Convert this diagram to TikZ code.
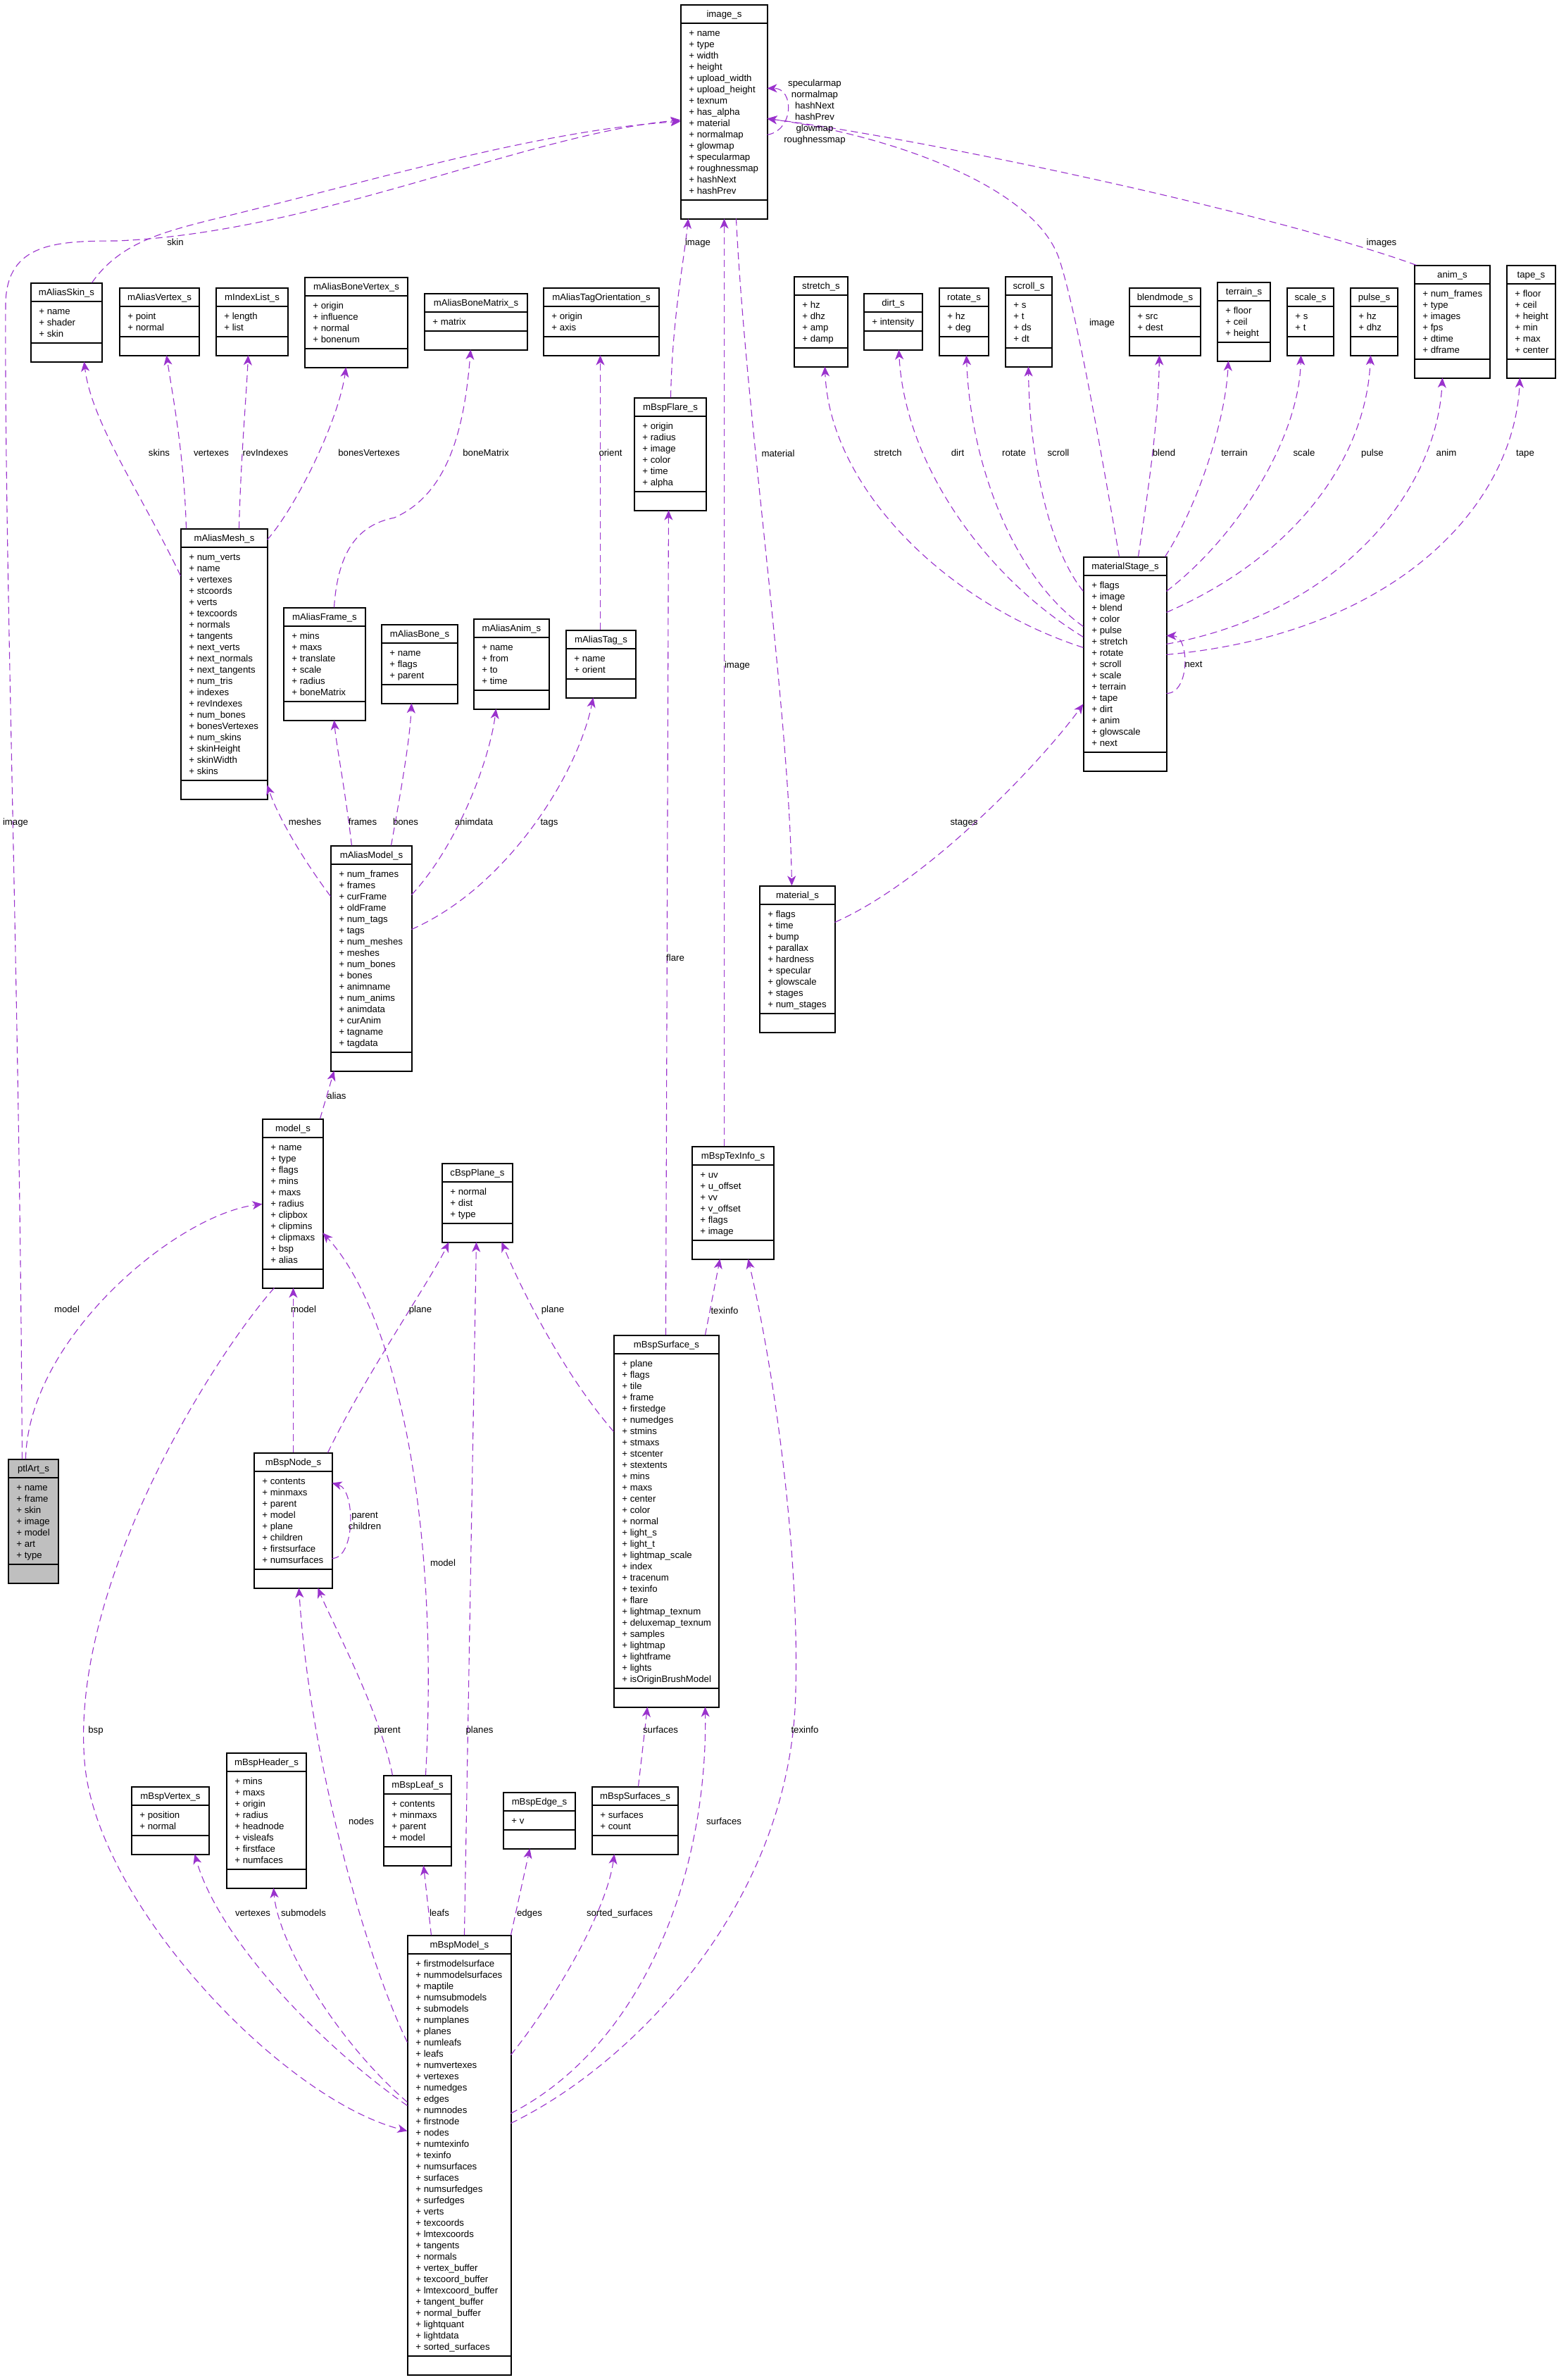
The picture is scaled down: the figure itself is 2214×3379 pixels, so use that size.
\documentclass[tikz,border=0pt]{standalone}
\usepackage{fontspec}
\setmainfont{Liberation Sans}
\usetikzlibrary{arrows.meta,fit}
\definecolor{edgec}{HTML}{9A32CD}
\definecolor{grayfill}{HTML}{BFBFBF}
\tikzset{
  boxline/.style={draw=black, line width=0.55pt},
  rel/.style={draw=edgec, line width=0.55pt, dash pattern=on 5pt off 3pt, -{Stealth[length=7pt,width=6pt,inset=2pt]}},
  lbl/.style={font=\fontsize{6.6}{8}\selectfont, inner sep=0pt, anchor=base, align=center},
  lblc/.style={font=\fontsize{6.6}{8}\selectfont, inner sep=0pt, anchor=center, align=center},
  attr/.style={font=\fontsize{6.6}{8}\selectfont, inner sep=0pt, anchor=base west},
  ttl/.style={font=\fontsize{6.6}{8}\selectfont, inner sep=0pt, anchor=base},
}
\newcommand{\umlbox}[8][white]{%
  \node[boxline, fill=#1, inner sep=0pt, fit={(#3,#4) ({#3+#5},{#4+64+16*#6})}] (#2) {};
  \draw[boxline] (#3,{#4+26}) -- ++(#5,0);
  \draw[boxline] (#3,{#4+37+16*#6}) -- ++(#5,0);
  \node[ttl] at ({#3+#5/2},{#4+17.5}) {#7};
  \foreach \a [count=\i from 0] in {#8} \node[attr] at ({#3+11},{#4+44.5+16*\i}) {+ \a};
}
\begin{document}
\begin{tikzpicture}[x=0.5pt,y=-0.5pt]
\fill[white] (0,0) rectangle (2214,3379);
\useasboundingbox (0,0) rectangle (2214,3379);
% boxes
\umlbox{ims}{967}{7}{123}{15}{image\_s}{name,type,width,height,upload\_width,upload\_height,texnum,has\_alpha,material,normalmap,glowmap,specularmap,roughnessmap,hashNext,hashPrev}
\umlbox{askin}{44}{402}{101}{3}{mAliasSkin\_s}{name,shader,skin}
\umlbox{avert}{170}{409}{113}{2}{mAliasVertex\_s}{point,normal}
\umlbox{idx}{307}{409}{102}{2}{mIndexList\_s}{length,list}
\umlbox{abv}{433}{394}{146}{4}{mAliasBoneVertex\_s}{origin,influence,normal,bonenum}
\umlbox{abm}{603}{417}{146}{1}{mAliasBoneMatrix\_s}{matrix}
\umlbox{ato}{772}{409}{164}{2}{mAliasTagOrientation\_s}{origin,axis}
\umlbox{flare}{901}{565}{102}{6}{mBspFlare\_s}{origin,radius,image,color,time,alpha}
\umlbox{str}{1128}{393}{76}{4}{stretch\_s}{hz,dhz,amp,damp}
\umlbox{dirt}{1227}{417}{83}{1}{dirt\_s}{intensity}
\umlbox{rot}{1334}{409}{70}{2}{rotate\_s}{hz,deg}
\umlbox{scr}{1428}{393}{66}{4}{scroll\_s}{s,t,ds,dt}
\umlbox{blend}{1604}{409}{101}{2}{blendmode\_s}{src,dest}
\umlbox{terr}{1729}{401}{75}{3}{terrain\_s}{floor,ceil,height}
\umlbox{scal}{1828}{409}{66}{2}{scale\_s}{s,t}
\umlbox{puls}{1918}{409}{67}{2}{pulse\_s}{hz,dhz}
\umlbox{anim}{2009}{377}{107}{6}{anim\_s}{num\_frames,type,images,fps,dtime,dframe}
\umlbox{tape}{2140}{377}{69}{6}{tape\_s}{floor,ceil,height,min,max,center}
\umlbox{mesh}{257}{751}{123}{20}{mAliasMesh\_s}{num\_verts,name,vertexes,stcoords,verts,texcoords,normals,tangents,next\_verts,next\_normals,next\_tangents,num\_tris,indexes,revIndexes,num\_bones,bonesVertexes,num\_skins,skinHeight,skinWidth,skins}
\umlbox{afr}{403}{863}{116}{6}{mAliasFrame\_s}{mins,maxs,translate,scale,radius,boneMatrix}
\umlbox{abone}{542}{887}{108}{3}{mAliasBone\_s}{name,flags,parent}
\umlbox{aanim}{673}{879}{107}{4}{mAliasAnim\_s}{name,from,to,time}
\umlbox{atag}{804}{895}{99}{2}{mAliasTag\_s}{name,orient}
\umlbox{mst}{1539}{791}{118}{15}{materialStage\_s}{flags,image,blend,color,pulse,stretch,rotate,scroll,scale,terrain,tape,dirt,anim,glowscale,next}
\umlbox{amod}{470}{1201}{115}{16}{mAliasModel\_s}{num\_frames,frames,curFrame,oldFrame,num\_tags,tags,num\_meshes,meshes,num\_bones,bones,animname,num\_anims,animdata,curAnim,tagname,tagdata}
\umlbox{mat}{1079}{1258}{107}{9}{material\_s}{flags,time,bump,parallax,hardness,specular,glowscale,stages,num\_stages}
\umlbox{model}{373}{1589}{86}{11}{model\_s}{name,type,flags,mins,maxs,radius,clipbox,clipmins,clipmaxs,bsp,alias}
\umlbox{plane}{628}{1652}{100}{3}{cBspPlane\_s}{normal,dist,type}
\umlbox{tex}{983}{1628}{116}{6}{mBspTexInfo\_s}{uv,u\_offset,vv,v\_offset,flags,image}
\umlbox{surf}{872}{1896}{149}{29}{mBspSurface\_s}{plane,flags,tile,frame,firstedge,numedges,stmins,stmaxs,stcenter,stextents,mins,maxs,center,color,normal,light\_s,light\_t,lightmap\_scale,index,tracenum,texinfo,flare,lightmap\_texnum,deluxemap\_texnum,samples,lightmap,lightframe,lights,isOriginBrushModel}
\umlbox[grayfill]{plt}{12}{2072}{71}{7}{ptlArt\_s}{name,frame,skin,image,model,art,type}
\umlbox{bnode}{361}{2063}{111}{8}{mBspNode\_s}{contents,minmaxs,parent,model,plane,children,firstsurface,numsurfaces}
\umlbox{vtx}{187}{2537}{110}{2}{mBspVertex\_s}{position,normal}
\umlbox{hdr}{322}{2489}{113}{8}{mBspHeader\_s}{mins,maxs,origin,radius,headnode,visleafs,firstface,numfaces}
\umlbox{leaf}{545}{2521}{96}{4}{mBspLeaf\_s}{contents,minmaxs,parent,model}
\umlbox{edge}{715}{2545}{102}{1}{mBspEdge\_s}{v}
\umlbox{surfs}{841}{2537}{122}{2}{mBspSurfaces\_s}{surfaces,count}
\umlbox{bmod}{579}{2748}{147}{35}{mBspModel\_s}{firstmodelsurface,nummodelsurfaces,maptile,numsubmodels,submodels,numplanes,planes,numleafs,leafs,numvertexes,vertexes,numedges,edges,numnodes,firstnode,nodes,numtexinfo,texinfo,numsurfaces,surfaces,numsurfedges,surfedges,verts,texcoords,lmtexcoords,tangents,normals,vertex\_buffer,texcoord\_buffer,lmtexcoord\_buffer,tangent\_buffer,normal\_buffer,lightquant,lightdata,sorted\_surfaces}
% connectors
\draw[rel] ([shift={(20,0)}]plt.north west) .. controls (28,1400) and (6,800) .. (8,430) .. controls (10,345) and (80,342) .. (166,342) .. controls (450,330) and (750,190) .. ([shift={(0,164)}]ims.north west);
\draw[rel] ([shift={(25,0)}]plt.north west) .. controls (40,1900) and (250,1725) .. ([shift={(0,121)}]model.north west);
\draw[rel] ([shift={(87,0)}]askin.north west) .. controls (170,345) and (230,330) .. (300,312) .. controls (500,265) and (760,185) .. ([shift={(0,166)}]ims.north west);
\draw[rel] ([shift={(0,67)}]mesh.north west) .. controls (200,700) and (130,600) .. ([shift={(76,112)}]askin.north west);
\draw[rel] ([shift={(8,0)}]mesh.north west) .. controls (262,650) and (245,560) .. ([shift={(67,96)}]avert.north west);
\draw[rel] ([shift={(83,0)}]mesh.north west) .. controls (342,650) and (350,560) .. ([shift={(46,96)}]idx.north west);
\draw[rel] ([shift={(123,16)}]mesh.north west) .. controls (420,720) and (480,600) .. ([shift={(59,128)}]abv.north west);
\draw[rel] ([shift={(72,0)}]afr.north west) .. controls (480,780) and (510,745) .. (560,735) .. controls (640,700) and (660,600) .. ([shift={(66,80)}]abm.north west);
\draw[rel] ([shift={(49,0)}]atag.north west) -- ([shift={(81,96)}]ato.north west);
\draw[rel] ([shift={(0,72)}]amod.north west) .. controls (430,1220) and (395,1160) .. ([shift={(123,364)}]mesh.north west);
\draw[rel] ([shift={(30,0)}]amod.north west) .. controls (490,1120) and (478,1060) .. ([shift={(72,160)}]afr.north west);
\draw[rel] ([shift={(86,0)}]amod.north west) .. controls (570,1120) and (582,1050) .. ([shift={(43,112)}]abone.north west);
\draw[rel] ([shift={(115,70)}]amod.north west) .. controls (650,1200) and (695,1080) .. ([shift={(32,128)}]aanim.north west);
\draw[rel] ([shift={(115,119)}]amod.north west) .. controls (720,1260) and (820,1100) .. ([shift={(39,96)}]atag.north west);
\draw[rel] ([shift={(82,0)}]model.north west) -- ([shift={(5,320)}]amod.north west);
\draw[rel] ([shift={(17,240)}]model.north west) .. controls (300,1930) and (100,2250) .. (120,2500) .. controls (135,2700) and (400,2980) .. ([shift={(0,278)}]bmod.north west);
\draw[rel] ([shift={(56,0)}]bnode.north west) -- ([shift={(44,240)}]model.north west);
\draw[rel] ([shift={(105,0)}]bnode.north west) .. controls (520,1950) and (610,1820) .. ([shift={(10,112)}]plane.north west);
\draw[rel] ([shift={(111,150)}]bnode.north west) .. controls (505,2213) and (505,2115) .. ([shift={(111,43)}]bnode.north west);
\draw[rel] ([shift={(60,0)}]leaf.north west) .. controls (625,2150) and (560,1860) .. ([shift={(86,162)}]model.north west);
\draw[rel] ([shift={(13,0)}]leaf.north west) .. controls (540,2430) and (470,2300) .. ([shift={(91,192)}]bnode.north west);
\draw[rel] ([shift={(0,137)}]surf.north west) .. controls (800,1950) and (740,1830) .. ([shift={(85,112)}]plane.north west);
\draw[rel] ([shift={(130,0)}]surf.north west) -- ([shift={(40,160)}]tex.north west);
\draw[rel] ([shift={(74,0)}]surf.north west) -- ([shift={(49,160)}]flare.north west);
\draw[rel] ([shift={(46,0)}]tex.north west) -- ([shift={(62,304)}]ims.north west);
\draw[rel] ([shift={(52,0)}]flare.north west) .. controls (955,450) and (970,380) .. ([shift={(11,304)}]ims.north west);
\draw[rel] ([shift={(79,304)}]ims.north west) .. controls (1060,600) and (1120,1000) .. ([shift={(46,0)}]mat.north west);
\draw[rel] ([shift={(107,52)}]mat.north west) .. controls (1320,1250) and (1480,1080) .. ([shift={(0,209)}]mst.north west);
\draw[rel] ([shift={(51,0)}]mst.north west) .. controls (1560,620) and (1530,450) .. (1505,370) .. controls (1470,260) and (1250,190) .. ([shift={(123,162)}]ims.north west);
\draw[rel] ([shift={(3,0)}]anim.north west) .. controls (1800,300) and (1300,195) .. ([shift={(123,162)}]ims.north west);
\draw[rel] ([shift={(123,185)}]ims.north west) .. controls (1128,185) and (1128,125) .. ([shift={(123,119)}]ims.north west);
\draw[rel] ([shift={(118,194)}]mst.north west) .. controls (1690,985) and (1690,903) .. ([shift={(118,112)}]mst.north west);
\draw[rel] ([shift={(0,129)}]mst.north west) .. controls (1340,855) and (1178,690) .. ([shift={(44,128)}]str.north west);
\draw[rel] ([shift={(0,114)}]mst.north west) .. controls (1400,820) and (1285,660) .. ([shift={(50,80)}]dirt.north west);
\draw[rel] ([shift={(0,99)}]mst.north west) .. controls (1440,820) and (1378,660) .. ([shift={(39,96)}]rot.north west);
\draw[rel] ([shift={(0,49)}]mst.north west) .. controls (1490,780) and (1462,650) .. ([shift={(33,128)}]scr.north west);
\draw[rel] ([shift={(78,0)}]mst.north west) .. controls (1630,700) and (1645,600) .. ([shift={(43,96)}]blend.north west);
\draw[rel] ([shift={(116,0)}]mst.north west) .. controls (1700,720) and (1740,600) .. ([shift={(16,112)}]terr.north west);
\draw[rel] ([shift={(118,49)}]mst.north west) .. controls (1760,760) and (1845,620) .. ([shift={(20,96)}]scal.north west);
\draw[rel] ([shift={(118,79)}]mst.north west) .. controls (1840,790) and (1940,650) .. ([shift={(29,96)}]puls.north west);
\draw[rel] ([shift={(118,124)}]mst.north west) .. controls (1900,870) and (2040,700) .. ([shift={(40,160)}]anim.north west);
\draw[rel] ([shift={(118,139)}]mst.north west) .. controls (1980,900) and (2150,720) .. ([shift={(19,160)}]tape.north west);
\draw[rel] ([shift={(0,152)}]bmod.north west) .. controls (520,2780) and (440,2500) .. ([shift={(64,192)}]bnode.north west);
\draw[rel] ([shift={(0,237)}]bmod.north west) .. controls (480,2900) and (395,2760) .. ([shift={(67,192)}]hdr.north west);
\draw[rel] ([shift={(0,242)}]bmod.north west) .. controls (450,2900) and (310,2750) .. ([shift={(90,96)}]vtx.north west);
\draw[rel] ([shift={(34,0)}]bmod.north west) -- ([shift={(57,128)}]leaf.north west);
\draw[rel] ([shift={(81,0)}]bmod.north west) -- ([shift={(49,112)}]plane.north west);
\draw[rel] ([shift={(147,0)}]bmod.north west) -- ([shift={(38,80)}]edge.north west);
\draw[rel] ([shift={(147,170)}]bmod.north west) .. controls (780,2850) and (860,2720) .. ([shift={(32,96)}]surfs.north west);
\draw[rel] ([shift={(147,253)}]bmod.north west) .. controls (920,2900) and (1005,2650) .. ([shift={(130,528)}]surf.north west);
\draw[rel] ([shift={(147,267)}]bmod.north west) .. controls (900,2930) and (1125,2700) .. (1130,2400) .. controls (1135,2200) and (1100,1950) .. ([shift={(80,160)}]tex.north west);
\draw[rel] ([shift={(66,0)}]surfs.north west) -- ([shift={(48,528)}]surf.north west);
% labels
\node[lbl] (l1) at (249,348) {skin};
\node[lbl] (l2) at (991,348) {image};
\node[lbl] (l3) at (1962,348) {images};
\node[lbl] (l4) at (1565,462) {image};
\node[lblc] (l5) at (1157,159) {specularmap\\normalmap\\hashNext\\hashPrev\\glowmap\\roughnessmap};
\node[lbl] (l6) at (226,647) {skins};
\node[lbl] (l7) at (300,647) {vertexes};
\node[lbl] (l8) at (377,647) {revIndexes};
\node[lbl] (l9) at (524,647) {bonesVertexes};
\node[lbl] (l10) at (690,647) {boneMatrix};
\node[lbl] (l11) at (867,647) {orient};
\node[lbl] (l12) at (1105,648) {material};
\node[lbl] (l13) at (1261,647) {stretch};
\node[lbl] (l14) at (1360,647) {dirt};
\node[lbl] (l15) at (1440,647) {rotate};
\node[lbl] (l16) at (1503,647) {scroll};
\node[lbl] (l17) at (1653,647) {blend};
\node[lbl] (l18) at (1753,647) {terrain};
\node[lbl] (l19) at (1852,647) {scale};
\node[lbl] (l20) at (1949,647) {pulse};
\node[lbl] (l21) at (2054,647) {anim};
\node[lbl] (l22) at (2166,647) {tape};
\node[lbl] (l23) at (1695,947) {next};
\node[lbl] (l24) at (1047,948) {image};
\node[lbl] (l25) at (22,1171) {image};
\node[lbl] (l26) at (433,1171) {meshes};
\node[lbl] (l27) at (515,1171) {frames};
\node[lbl] (l28) at (576,1171) {bones};
\node[lbl] (l29) at (673,1171) {animdata};
\node[lbl] (l30) at (780,1171) {tags};
\node[lbl] (l31) at (1369,1171) {stages};
\node[lbl] (l32) at (959,1364) {flare};
\node[lbl] (l33) at (478,1560) {alias};
\node[lbl] (l34) at (95,1863) {model};
\node[lbl] (l35) at (431,1863) {model};
\node[lbl] (l36) at (597,1863) {plane};
\node[lbl] (l37) at (785,1863) {plane};
\node[lbl] (l38) at (1029,1865) {texinfo};
\node[lblc] (l39) at (518,2159) {parent\\children};
\node[lbl] (l40) at (629,2223) {model};
\node[lbl] (l41) at (136,2460) {bsp};
\node[lbl] (l42) at (550,2460) {parent};
\node[lbl] (l43) at (681,2460) {planes};
\node[lbl] (l44) at (938,2460) {surfaces};
\node[lbl] (l45) at (1143,2460) {texinfo};
\node[lbl] (l46) at (513,2590) {nodes};
\node[lbl] (l47) at (1028,2590) {surfaces};
\node[lbl] (l48) at (359,2720) {vertexes};
\node[lbl] (l49) at (431,2720) {submodels};
\node[lbl] (l50) at (624,2720) {leafs};
\node[lbl] (l51) at (752,2720) {edges};
\node[lbl] (l52) at (880,2720) {sorted\_surfaces};
\end{tikzpicture}
\end{document}
